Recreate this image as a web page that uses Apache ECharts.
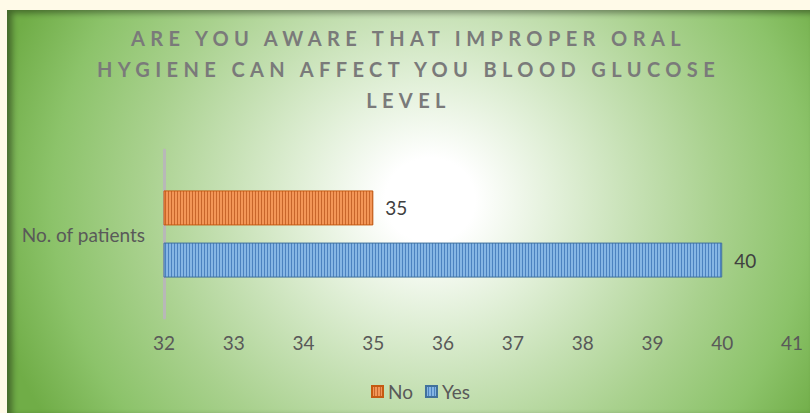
<!DOCTYPE html>
<html lang="en">
<head>
  <meta charset="UTF-8">
  <title>Oral hygiene awareness</title>
  <style>
    * {
      box-sizing: border-box;
      padding: 0;
      margin: 0;
    }
    html, body {
      width: 100%;
      height: 100%;
      background: #fffae8;
    }
    #main {
      position: absolute;
      left: 7px;
      top: 10px;
      width: 803px;
      height: 403px;
      background: radial-gradient(ellipse 450px 420px at 423px 190px, #ffffff 0%, #ffffff 10%, #e2f0d9 28%, #c5e0b3 46%, #a9d18e 64%, #8cc36a 84%, #70ad47 100%);
      box-shadow: inset 5px 3px 6px rgba(0, 0, 0, 0.4);
    }
    /* spaced caps for the title */
    #main text[style*="bold"] {
      letter-spacing: 5.4px;
    }
  </style>
  <script src="https://cdn.jsdelivr.net/npm/echarts@6/dist/echarts.min.js"></script>
</head>
<body>
  <div id="main"></div>
  <script>
    var titleText = 'ARE YOU AWARE THAT IMPROPER ORAL\nHYGIENE CAN AFFECT YOU BLOOD GLUCOSE\nLEVEL';
    var categories = ['No. of patients'];
    var seriesNames = ['No', 'Yes'];
    var noValues = [35];
    var yesValues = [40];
    var axisMin = 32;
    var axisMax = 41;

    // striped fill, like the office "vertical lines" pattern
    function stripes(light, dark) {
      var c = document.createElement('canvas');
      c.width = 3;
      c.height = 4;
      var ctx = c.getContext('2d');
      ctx.fillStyle = light;
      ctx.fillRect(0, 0, 3, 4);
      ctx.fillStyle = dark;
      ctx.fillRect(2, 0, 1, 4);
      return { image: c, repeat: 'repeat' };
    }

    var myChart = echarts.init(document.getElementById('main'), null, { renderer: 'svg' });

    var font = 'Lato';

    var labelStyle = {
      show: true,
      position: 'right',
      distance: 12,
      fontSize: 19,
      fontFamily: font,
      color: '#404040'
    };

    var option = {
      backgroundColor: 'transparent',
      title: {
        text: titleText,
        left: 'center',
        top: 12,
        padding: [0, 0, 0, 26],
        textStyle: {
          fontFamily: font,
          fontWeight: 'bold',
          fontSize: 20,
          lineHeight: 31,
          color: '#7a7a7a'
        }
      },
      legend: {
        data: seriesNames,
        left: 359,
        top: 367,
        itemWidth: 11,
        itemHeight: 11,
        itemGap: 12,
        icon: 'rect',
        textStyle: { fontSize: 19, fontFamily: font, color: '#595959' }
      },
      grid: {
        left: 157,
        right: 18,
        top: 140,
        bottom: 95
      },
      xAxis: {
        type: 'value',
        min: axisMin,
        max: axisMax,
        interval: 1,
        axisLine: { show: false },
        axisTick: { show: false },
        splitLine: { show: false },
        axisLabel: { fontSize: 19, fontFamily: font, color: '#595959', margin: 15 }
      },
      yAxis: {
        type: 'category',
        data: categories,
        axisLine: { show: true, lineStyle: { color: '#b8b8b8', width: 3 } },
        axisTick: { show: false },
        axisLabel: { fontSize: 19, fontFamily: font, color: '#595959', margin: 19 }
      },
      series: [
        {
          name: 'No',
          type: 'bar',
          data: noValues,
          barWidth: 35,
          barGap: '49%',
          itemStyle: { color: stripes('#f39657', '#c8662b'), borderColor: '#c55a11', borderWidth: 1 },
          label: labelStyle
        },
        {
          name: 'Yes',
          type: 'bar',
          data: yesValues,
          barWidth: 35,
          barGap: '49%',
          itemStyle: { color: stripes('#86b6e4', '#4c82c0'), borderColor: '#41719c', borderWidth: 1 },
          label: labelStyle
        }
      ]
    };

    myChart.setOption(option);
    window.onresize = myChart.resize;
  </script>
</body>
</html>
